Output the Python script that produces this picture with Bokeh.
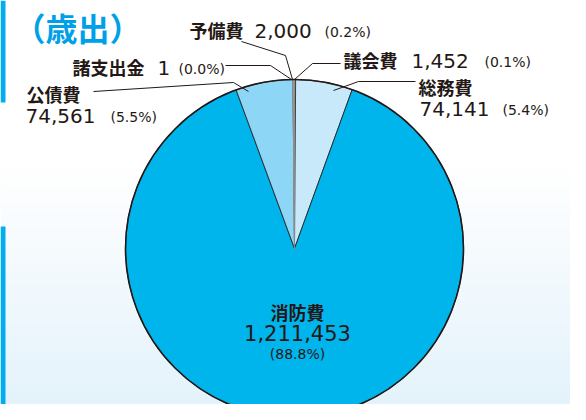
import math
import numpy as np
from bokeh.plotting import figure
from bokeh.models import Range1d, ColumnDataSource
from bokeh.core.properties import value
from bokeh.embed import file_html
from bokeh.resources import INLINE

# ---- data ----
title = "（歳出）"
categories = ["議会費", "総務費", "消防費", "公債費", "諸支出金", "予備費"]
amounts = [1452, 74141, 1211453, 74561, 1, 2000]
pct_labels = ["0.1%", "5.4%", "88.8%", "5.5%", "0.0%", "0.2%"]

# ---- styles ----
slice_colors = ["#a3a4a5", "#c8e9fa", "#00b4ec", "#8dd6f6", "#a3a4a5", "#a3a4a5"]
slice_lines = ["#8c8c8c", "#231815", "#231815", "#231815", "#8c8c8c", "#8c8c8c"]
TXT = "#231815"
JP = value("Noto Sans CJK JP")
NUM = value("DejaVu Sans")

W, H = 570, 404


def Y(ry):
    return 420 - ry


p = figure(width=W, height=H, output_backend="svg", toolbar_location=None,
           x_range=Range1d(0, W), y_range=Range1d(420 - H, 420),
           min_border=0, outline_line_color=None)
p.axis.visible = False
p.grid.visible = False
p.background_fill_color = "white"
p.border_fill_color = "white"

# background gradient
rows = H
img = np.zeros((rows, W), dtype=np.uint32)
view = img.view(dtype=np.uint8).reshape((rows, W, 4))
top_c = np.array([255, 255, 255])
bot_c = np.array([226, 242, 251])
for i in range(rows):
    ry = 420 - (420 - H + i + 0.5)
    t = min(max((ry - 170) / (420 - 170), 0.0), 1.0)
    c = top_c * (1 - t) + bot_c * t
    view[i, :, 0] = int(c[0]); view[i, :, 1] = int(c[1]); view[i, :, 2] = int(c[2]); view[i, :, 3] = 255
p.image_rgba(image=[img], x=0, y=420 - H, dw=W, dh=H)

# left accent bars
p.quad(left=[0, 0], right=[5, 5], top=[Y(0), Y(226)], bottom=[Y(102), Y(420)],
       fill_color="#00aeef", line_color=None)

# ---- pie ----
cx, cy, R = 294, Y(248), 169
total = sum(amounts)
fracs = [a / total for a in amounts]
cum = np.cumsum([0] + fracs)
starts = [math.pi / 2 - 2 * math.pi * cum[i] for i in range(len(amounts))]
ends = [math.pi / 2 - 2 * math.pi * cum[i + 1] for i in range(len(amounts))]
src = ColumnDataSource(dict(start=starts, end=ends, color=slice_colors, lc=slice_lines, name=categories))
p.wedge(x=cx, y=cy, radius=R, start_angle="start", end_angle="end", direction="clock",
        fill_color="color", line_color="lc", line_width=0.8, source=src)
p.circle(x=[cx], y=[cy], radius=R, fill_color=None, line_color="#231815", line_width=1.6)

# ---- leader lines ----
leaders = [
    [(340, 63), (312, 63), (294, 79)],       # 議会費
    [(415, 81), (358, 81), (333, 90)],       # 総務費
    [(93, 91), (233, 82), (248, 91)],        # 公債費
    [(225, 65), (270, 65), (291, 79)],       # 諸支出金
    [(241, 41), (285, 55), (292, 79)],       # 予備費
]
p.multi_line(xs=[[pt[0] for pt in l] for l in leaders], ys=[[Y(pt[1]) for pt in l] for l in leaders],
             line_color="#231815", line_width=1)

# ---- labels ----
def txt(x, y, s, font, size, align="left", bold=False, color=TXT):
    p.text(x=[x], y=[Y(y)], text=[s], text_font=font, text_font_size=value(size),
           text_align=align, text_baseline="middle", text_color=color,
           text_font_style="bold" if bold else "normal")

fmt = [f"{a:,}" for a in amounts]
pct = [f"({s})" for s in pct_labels]

txt(13, 26, title, JP, "32px", bold=True, color="#00a0e9")

# 議会費
txt(343, 59, categories[0], JP, "18px", bold=True)
txt(411, 60, fmt[0], NUM, "20px")
txt(484, 61, pct[0], NUM, "14px")
# 総務費
txt(418, 86, categories[1], JP, "18px", bold=True)
txt(419, 108, fmt[1], NUM, "20px")
txt(502, 109, pct[1], NUM, "14px")
# 消防費
txt(297, 311, categories[2], JP, "18px", align="center", bold=True)
txt(297, 332, fmt[2], NUM, "21px", align="center")
txt(297, 353, pct[2], NUM, "14px", align="center")
# 公債費
txt(26, 93, categories[3], JP, "18px", bold=True)
txt(25, 115, fmt[3], NUM, "20px")
txt(110, 116, pct[3], NUM, "14px")
# 諸支出金
txt(72, 66, categories[4], JP, "18px", bold=True)
txt(157, 67, fmt[4], NUM, "20px")
txt(178, 68, pct[4], NUM, "14px")
# 予備費
txt(189, 29, categories[5], JP, "18px", bold=True)
txt(254, 30, fmt[5], NUM, "20px")
txt(324, 31, pct[5], NUM, "14px")

open("out.html", "w").write(file_html(p, INLINE))
